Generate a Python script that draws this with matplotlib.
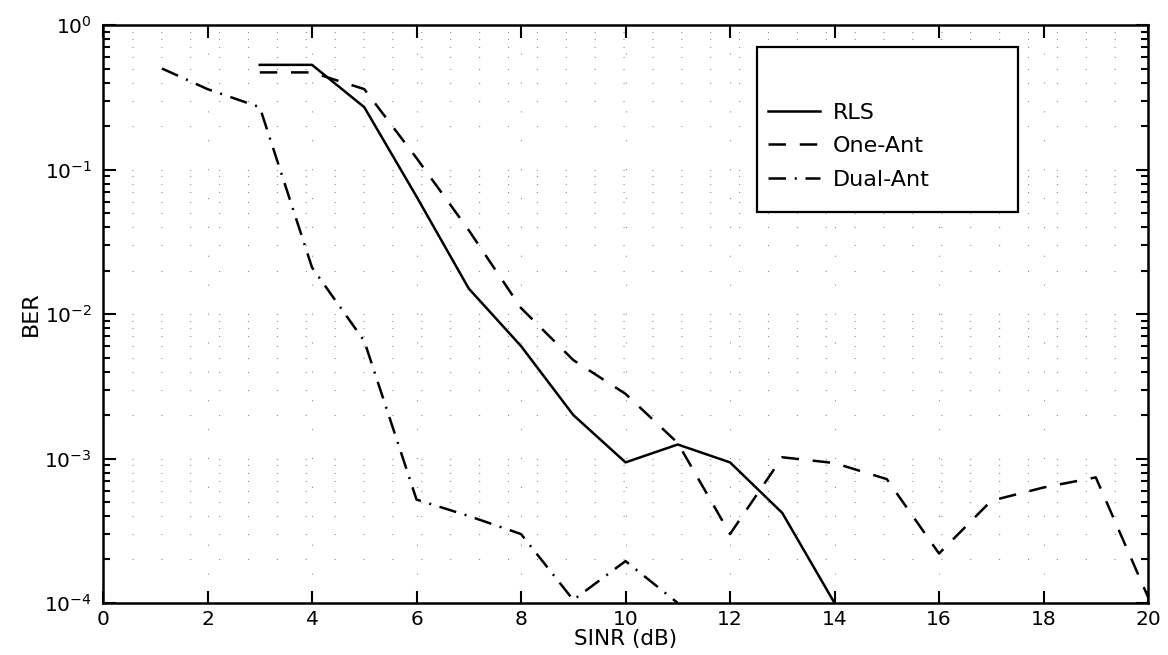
import numpy as np
import matplotlib
matplotlib.use("Agg")
import matplotlib.pyplot as plt
from matplotlib.patches import Rectangle

plt.rcParams['font.family'] = ['DejaVu Sans']
plt.rcParams['mathtext.fontset'] = 'dejavusans'

# BER vs SINR for the three receivers
rls_x = [3, 4, 5, 6, 7, 8, 9, 10, 11, 12, 13, 14]
rls_ber = [0.53, 0.53, 0.27, 0.065, 0.015, 0.006, 0.002, 9.4e-4, 1.25e-3, 9.4e-4, 4.2e-4, 1.0e-4]

one_x = [3, 4, 5, 6, 7, 8, 9, 10, 11, 12, 13, 14, 15, 16, 17, 18, 19, 20]
one_ber = [0.47, 0.47, 0.36, 0.12, 0.038, 0.011, 0.0048, 0.0028, 1.28e-3, 3.0e-4,
           1.02e-3, 9.3e-4, 7.2e-4, 2.2e-4, 5.1e-4, 6.3e-4, 7.4e-4, 1.1e-4]

dual_x = [1.13, 2, 3, 4, 5, 6, 7, 8, 9, 10, 11]
dual_ber = [0.5, 0.36, 0.27, 0.021, 0.0065, 5.2e-4, 4.0e-4, 3.0e-4, 1.05e-4, 1.95e-4, 1.0e-4]

fig = plt.figure(figsize=(11.68, 6.55), dpi=100)
ax = fig.add_axes([0.0882, 0.0794, 0.8947, 0.8824])

lw = 1.8
ax.plot(rls_x, rls_ber, color='black', lw=lw, linestyle='-', label='RLS')
ax.plot(one_x, one_ber, color='black', lw=lw, linestyle=(0, (7, 5.5)), label='One-Ant')
ax.plot(dual_x, dual_ber, color='black', lw=lw, linestyle=(0, (7, 3.5, 0.8, 3.5)), label='Dual-Ant')

ax.set_yscale('log')
ax.set_xlim(0, 20)
ax.set_ylim(1e-4, 1)
ax.set_xticks(np.arange(0, 21, 2))
ax.set_yticks([1e-4, 1e-3, 1e-2, 1e-1, 1])

# sparse dotted grid
ax.grid(True, which='major', axis='x', color='0.55', lw=0.8, linestyle=(0, (1, 25)))
ax.grid(True, which='both', axis='y', color='0.55', lw=0.8, linestyle=(0, (1, 25)))

ax.tick_params(which='both', direction='in', top=True, right=True, width=1.5,
               labelsize=14.5, colors='black')
ax.tick_params(which='major', length=9, pad=5)
ax.tick_params(axis='y', which='major', pad=8)
ax.tick_params(which='minor', length=5)
ax.tick_params(axis='x', which='minor', bottom=False, top=False)
for s in ax.spines.values():
    s.set_linewidth(1.8)

ax.set_xlabel('SINR (dB)', fontsize=15.5, labelpad=0)
ax.set_ylabel('BER', fontsize=16, family='DejaVu Sans Condensed', labelpad=2)

# legend box drawn separately so it keeps its wide, tall shape
box = Rectangle((0.648, 0.6763), 0.2235, 0.2519, transform=fig.transFigure,
                facecolor='white', edgecolor='black', lw=1.6, zorder=4)
ax.add_patch(box)
box.set_clip_on(False)
leg = ax.legend(loc='upper left', bbox_to_anchor=(0.6575, 0.843),
                bbox_transform=fig.transFigure, fontsize=16, frameon=False,
                handlelength=2.35, borderpad=0, labelspacing=0.6,
                handletextpad=0.55, borderaxespad=0)
leg.set_zorder(5)

fig.savefig('out.png', dpi=100)
